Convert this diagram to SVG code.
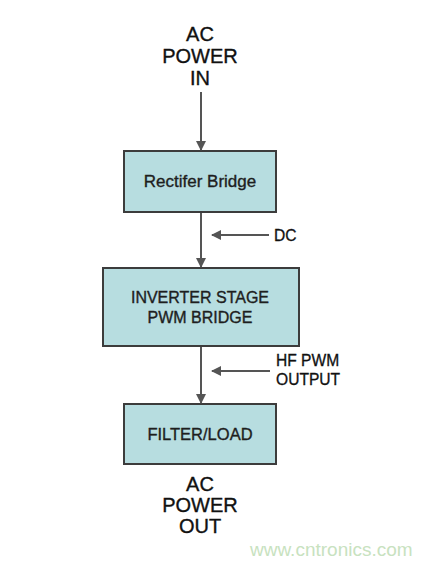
<svg xmlns="http://www.w3.org/2000/svg" width="434" height="565" viewBox="0 0 434 565">
<style>
.box{fill:#b7dde0;stroke:#3c3c3c;stroke-width:2}
.lbl{font-family:"Liberation Sans",Arial,sans-serif;font-size:16px;fill:#1e1e1e;stroke:#1e1e1e;stroke-width:0.35;text-anchor:middle}
.big{font-family:"Liberation Sans",Arial,sans-serif;font-size:20px;fill:#111;stroke:#111;stroke-width:0.35;text-anchor:middle}
.side{font-family:"Liberation Sans",Arial,sans-serif;font-size:15.6px;fill:#111;stroke:#111;stroke-width:0.3}
.wire{stroke:#555;stroke-width:2;fill:none;marker-end:url(#ah)}
</style>
<defs>
<marker id="ah" viewBox="0 0 10 10" refX="9" refY="5" markerWidth="5" markerHeight="5" orient="auto" markerUnits="strokeWidth">
<path d="M0,0 L10,5 L0,10 z" fill="#555"/>
</marker>
</defs>
<rect width="434" height="565" fill="#fff"/>
<g id="ac-in">
<text class="big" x="200" y="41">AC</text>
<text class="big" x="200" y="63">POWER</text>
<text class="big" x="200" y="85">IN</text>
</g>
<g id="rectifier">
<rect class="box" x="124" y="151" width="152" height="61"/>
<text class="lbl" x="200" y="187" style="font-size:17px">Rectifer Bridge</text>
</g>
<g id="inverter">
<rect class="box" x="103" y="268" width="196" height="78"/>
<text class="lbl" x="200" y="303">INVERTER STAGE</text>
<text class="lbl" x="200" y="323">PWM BRIDGE</text>
</g>
<g id="filter">
<rect class="box" x="124" y="404" width="152" height="60"/>
<text class="lbl" x="200" y="440" style="font-size:16.5px">FILTER/LOAD</text>
</g>
<g id="ac-out">
<text class="big" x="200" y="491">AC</text>
<text class="big" x="200" y="512">POWER</text>
<text class="big" x="200" y="533">OUT</text>
</g>
<g id="connectors">
<line class="wire" x1="201" y1="92" x2="201" y2="150"/>
<line class="wire" x1="201" y1="213" x2="201" y2="267"/>
<line class="wire" x1="201" y1="347" x2="201" y2="403"/>
<line class="wire" x1="269" y1="235" x2="212" y2="235"/>
<line class="wire" x1="270" y1="371" x2="212" y2="371"/>
</g>
<g id="side-labels">
<text class="side" x="274" y="241">DC</text>
<text class="side" x="276" y="366">HF PWM</text>
<text class="side" x="276" y="385">OUTPUT</text>
</g>
<text x="250" y="556" font-family="Liberation Sans,Arial,sans-serif" font-size="19" fill="#c8e2c0">www.cntronics.com</text>
</svg>
